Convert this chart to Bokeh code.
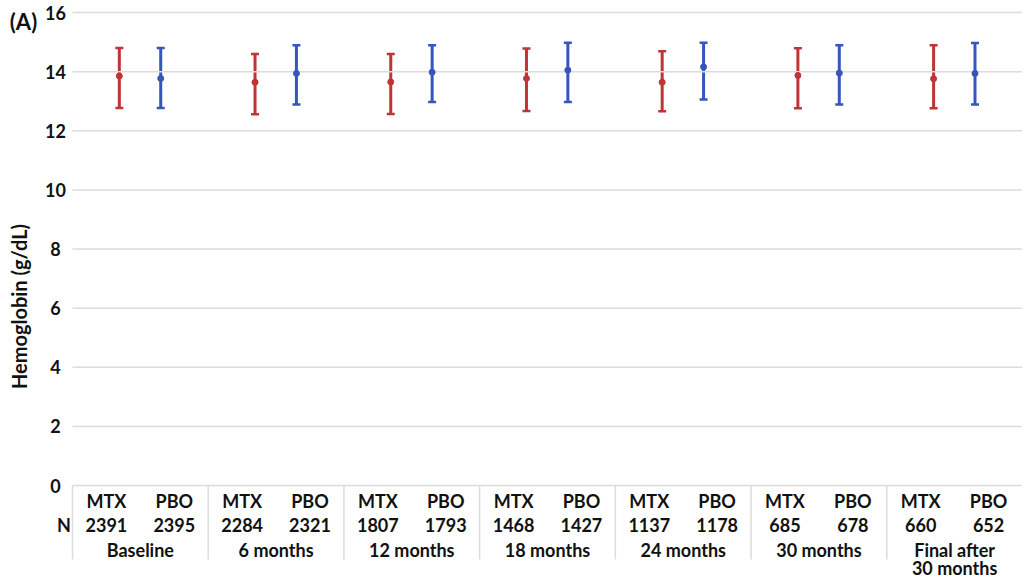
import math
from bokeh.plotting import figure
from bokeh.models import ColumnDataSource, Range1d, Whisker, TeeHead
from bokeh.core.properties import value
from bokeh.embed import file_html
from bokeh.resources import INLINE

# ---- data ----
groups = ["Baseline", "6 months", "12 months", "18 months", "24 months", "30 months", "Final after"]
groups_line2 = ["", "", "", "", "", "", "30 months"]
n_mtx = [2391, 2284, 1807, 1468, 1137, 685, 660]
n_pbo = [2395, 2321, 1793, 1427, 1178, 678, 652]
mtx_mean = [13.85, 13.64, 13.65, 13.77, 13.64, 13.87, 13.76]
mtx_lower = [12.77, 12.56, 12.57, 12.67, 12.66, 12.76, 12.76]
mtx_upper = [14.80, 14.60, 14.60, 14.78, 14.69, 14.79, 14.89]
pbo_mean = [13.77, 13.94, 13.98, 14.05, 14.16, 13.95, 13.94]
pbo_lower = [12.77, 12.89, 12.97, 12.97, 13.06, 12.89, 12.89]
pbo_upper = [14.80, 14.89, 14.89, 14.98, 14.98, 14.89, 14.97]
y_ticks = [0, 2, 4, 6, 8, 10, 12, 14, 16]
y_title = "Hemoglobin (g/dL)"
panel_tag = "(A)"

RED = "#BF3436"
BLUE = "#3656BE"
FONT = "Lato"
GRID = "#DCDCDC"
INK = "#111111"

W, H = 1022, 580
ng = len(groups)
unit_x = (W - 72) / ng
unit_y = (485 - 12) / 16.0
x0 = -72 / unit_x
y_top = 16 + 12 / unit_y
y_bot = -(H - 485) / unit_y

gx = [i + 0.5 for i in range(ng)]
x_mtx = [x - 0.155 for x in gx]
x_pbo = [x + 0.15 for x in gx]

p = figure(width=W, height=H, output_backend="svg", toolbar_location=None,
           x_range=Range1d(x0, ng), y_range=Range1d(y_bot, y_top),
           x_axis_type=None, y_axis_type=None,
           min_border_left=0, min_border_right=0, min_border_top=0, min_border_bottom=0)
p.outline_line_color = None
p.grid.visible = False

# horizontal grid lines at the y ticks
p.segment(x0=[0] * len(y_ticks), y0=y_ticks, x1=[ng] * len(y_ticks), y1=y_ticks,
          line_color=GRID, line_width=1.5)
# table separators
p.segment(x0=list(range(ng)), y0=[0] * ng, x1=list(range(ng)), y1=[-2.5] * ng,
          line_color=GRID, line_width=1.5)

# error bars
for xs, m, lo, hi, col in [(x_mtx, mtx_mean, mtx_lower, mtx_upper, RED),
                           (x_pbo, pbo_mean, pbo_lower, pbo_upper, BLUE)]:
    src = ColumnDataSource(dict(x=xs, m=m, lo=lo, hi=hi))
    w = Whisker(base="x", upper="hi", lower="lo", source=src, line_color=col, line_width=3,
                upper_head=TeeHead(size=8, line_color=col, line_width=2.5),
                lower_head=TeeHead(size=8, line_color=col, line_width=2.5))
    p.add_layout(w)
    p.scatter(x="x", y="m", source=src, size=6, color=col, marker="circle")

tx = dict(text_font=value(FONT), text_font_style="bold", text_font_size="18px",
          text_align="center", text_baseline="middle", text_color=INK)

# y tick labels
p.text(x=[-17 / unit_x] * len(y_ticks), y=y_ticks, text=[str(t) for t in y_ticks], **tx)
# y title
p.text(x=[-54 / unit_x], y=[(485 - 306) / unit_y], text=[y_title], angle=math.pi / 2,
       text_font=value(FONT), text_font_style="bold", text_font_size="20px",
       text_align="center", text_baseline="middle", text_color=INK)
# panel tag
p.text(x=[-49 / unit_x], y=[(485 - 21) / unit_y], text=[panel_tag],
       text_font=value(FONT), text_font_style="bold", text_font_size="22px",
       text_align="center", text_baseline="middle", text_color=INK)

# table texts
lab_l = [g - 0.25 for g in gx]
lab_r = [g + 0.25 for g in gx]
p.text(x=lab_l, y=[-0.51] * ng, text=["MTX"] * ng, **tx)
p.text(x=lab_r, y=[-0.51] * ng, text=["PBO"] * ng, **tx)
p.text(x=lab_l, y=[-1.32] * ng, text=[str(v) for v in n_mtx], **tx)
p.text(x=lab_r, y=[-1.32] * ng, text=[str(v) for v in n_pbo], **tx)
p.text(x=[-8.5 / unit_x], y=[-1.32], text=["N"], **tx)
p.text(x=gx, y=[-2.18] * ng, text=groups, **tx)
p.text(x=gx, y=[-2.8] * ng, text=groups_line2, **tx)

open("out.html", "w").write(file_html(p, INLINE))
